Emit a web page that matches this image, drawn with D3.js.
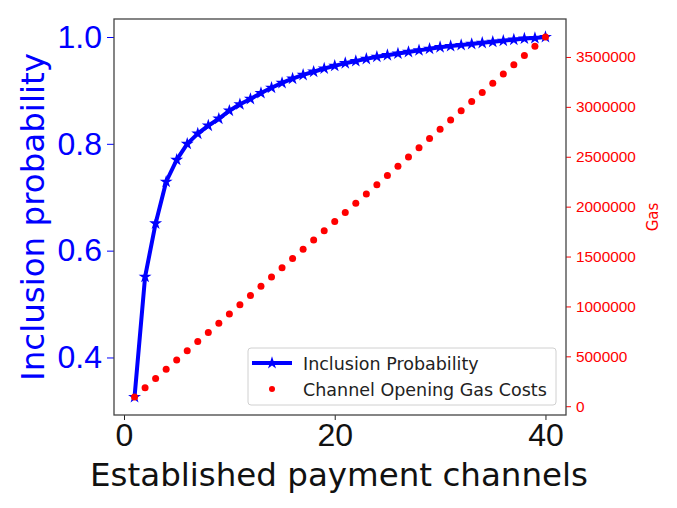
<!DOCTYPE html>
<html>
<head>
<meta charset="utf-8">
<script src="https://cdn.jsdelivr.net/npm/d3@7"></script>
<style>
  body { margin: 0; background: #fff; }
  svg { font-family: "DejaVu Sans", sans-serif; }
</style>
</head>
<body>
<div class="chart"></div>
<script>
// number of established channels
const channels = [1, 2, 3, 4, 5, 6, 7, 8, 9, 10,
    11, 12, 13, 14, 15, 16, 17, 18, 19, 20,
    21, 22, 23, 24, 25, 26, 27, 28, 29, 30,
    31, 32, 33, 34, 35, 36, 37, 38, 39, 40];
const inclusionProb = [0.326, 0.551, 0.651, 0.729, 0.770, 0.800, 0.819, 0.834, 0.847, 0.862,
    0.874, 0.884, 0.895, 0.905, 0.914, 0.922, 0.929, 0.935, 0.941, 0.946,
    0.951, 0.955, 0.959, 0.963, 0.966, 0.969, 0.972, 0.975, 0.978, 0.981,
    0.983, 0.985, 0.987, 0.989, 0.991, 0.993, 0.995, 0.997, 0.998, 1.000];
const gasCosts = [92500, 185000, 277500, 370000, 462500, 555000, 647500, 740000, 832500, 925000,
    1017500, 1110000, 1202500, 1295000, 1387500, 1480000, 1572500, 1665000, 1757500, 1850000,
    1942500, 2035000, 2127500, 2220000, 2312500, 2405000, 2497500, 2590000, 2682500, 2775000,
    2867500, 2960000, 3052500, 3145000, 3237500, 3330000, 3422500, 3515000, 3607500, 3700000];
const xTicks = [0, 20, 40];
const probTicks = [0.4, 0.6, 0.8, 1.0];
const gasTicks = [0, 500000, 1000000, 1500000, 2000000, 2500000, 3000000, 3500000];
const legendLabels = ["Inclusion Probability", "Channel Opening Gas Costs"];

const W = 677, H = 508;
const plot = {left: 114, right: 566, top: 19, bottom: 415};

// matplotlib style 5% padding
function padded(vals) {
    let [lo, hi] = d3.extent(vals);
    let m = (hi - lo) * 0.05;
    return [lo - m, hi + m];
}

const x = d3.scaleLinear().domain(padded(channels)).range([plot.left, plot.right]);
const yProb = d3.scaleLinear().domain(padded(inclusionProb)).range([plot.bottom, plot.top]);
const yGas = d3.scaleLinear().domain(padded(gasCosts)).range([plot.bottom, plot.top]);

const svg = d3.select("div.chart")
    .append("svg")
        .attr("width", W)
        .attr("height", H);

// left axis (blue)
const leftAxis = svg.append("g")
    .attr("transform", `translate(${plot.left},0)`)
    .call(d3.axisLeft(yProb).tickValues(probTicks).tickFormat(d3.format(".1f")).tickSize(7).tickPadding(5));
leftAxis.select(".domain").remove();
leftAxis.selectAll(".tick line").attr("stroke", "blue");
leftAxis.selectAll(".tick text").attr("fill", "blue").style("font-size", "32px");

// right axis (red)
const rightAxis = svg.append("g")
    .attr("transform", `translate(${plot.right},0)`)
    .call(d3.axisRight(yGas).tickValues(gasTicks).tickFormat(d3.format("d")).tickSize(5).tickPadding(5));
rightAxis.select(".domain").remove();
rightAxis.selectAll(".tick line").attr("stroke", "red");
rightAxis.selectAll(".tick text").attr("fill", "red").style("font-size", "15.4px");

// bottom axis
const bottomAxis = svg.append("g")
    .attr("transform", `translate(0,${plot.bottom})`)
    .call(d3.axisBottom(x).tickValues(xTicks).tickFormat(d3.format("d")).tickSize(5).tickPadding(3));
bottomAxis.select(".domain").remove();
bottomAxis.selectAll(".tick line").attr("stroke", "#222");
bottomAxis.selectAll(".tick text").attr("fill", "#111").style("font-size", "32px");

// frame
svg.append("rect")
    .attr("x", plot.left)
    .attr("y", plot.top)
    .attr("width", plot.right - plot.left)
    .attr("height", plot.bottom - plot.top)
    .attr("fill", "none")
    .attr("stroke", "#444")
    .attr("stroke-width", 1.3);

// probability line + stars
const star = d3.symbol().type(d3.symbolStar).size(52);
const line = d3.line()
    .x((d, i) => x(channels[i]))
    .y(d => yProb(d));

svg.append("path")
    .datum(inclusionProb)
    .attr("d", line)
    .attr("fill", "none")
    .attr("stroke", "blue")
    .attr("stroke-width", 4)
    .attr("stroke-linejoin", "round");

svg.selectAll("path.star")
    .data(inclusionProb)
    .join("path")
    .attr("class", "star")
    .attr("d", star)
    .attr("transform", (d, i) => `translate(${x(channels[i])},${yProb(d)})`)
    .attr("fill", "blue");

// gas dots
svg.selectAll("circle.gas")
    .data(gasCosts)
    .join("circle")
    .attr("class", "gas")
    .attr("cx", (d, i) => x(channels[i]))
    .attr("cy", d => yGas(d))
    .attr("r", 3.5)
    .attr("fill", "red");

// axis labels
svg.append("text")
    .attr("transform", `translate(33,${(plot.top + plot.bottom) / 2}) rotate(-90)`)
    .attr("text-anchor", "middle")
    .attr("dominant-baseline", "central")
    .attr("fill", "blue")
    .style("font-size", "32.5px")
    .text("Inclusion probability");

svg.append("text")
    .attr("transform", `translate(653,${(plot.top + plot.bottom) / 2}) rotate(-90)`)
    .attr("text-anchor", "middle")
    .attr("dominant-baseline", "central")
    .attr("fill", "red")
    .style("font-size", "15px")
    .text("Gas");

svg.append("text")
    .attr("x", (plot.left + plot.right) / 2 - 1)
    .attr("y", 486)
    .attr("text-anchor", "middle")
    .attr("fill", "#111")
    .style("font-size", "32.5px")
    .text("Established payment channels");

// legend
const lg = svg.append("g").attr("transform", "translate(248,348)");
lg.append("rect")
    .attr("width", 308)
    .attr("height", 57)
    .attr("rx", 3)
    .attr("fill", "white")
    .attr("fill-opacity", 0.85)
    .attr("stroke", "#d0d0d0");
lg.append("line")
    .attr("x1", 4).attr("x2", 44)
    .attr("y1", 15).attr("y2", 15)
    .attr("stroke", "blue")
    .attr("stroke-width", 4);
lg.append("path")
    .attr("d", star)
    .attr("transform", "translate(24,15)")
    .attr("fill", "blue");
lg.append("circle")
    .attr("cx", 24).attr("cy", 41)
    .attr("r", 3)
    .attr("fill", "red");
lg.selectAll("text.lbl")
    .data(legendLabels)
    .join("text")
    .attr("class", "lbl")
    .attr("x", 55)
    .attr("y", (d, i) => 21.5 + i * 26)
    .attr("fill", "#222")
    .style("font-size", "17.5px")
    .text(d => d);
</script>
</body>
</html>
